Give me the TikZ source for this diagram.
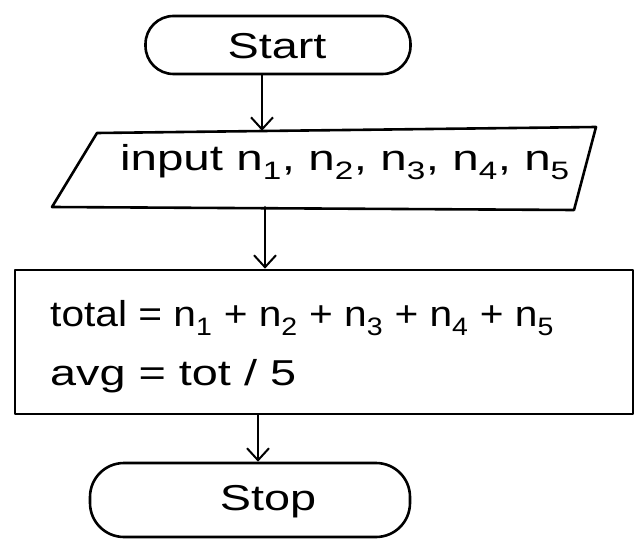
\documentclass[tikz,border=0pt]{standalone}
\usepackage{fontspec}
\usepackage{graphicx}
\setmainfont{Liberation Sans}
\usetikzlibrary{arrows.meta,calc}
\newcommand{\wide}[2][1.3]{\scalebox{#1}[1]{#2}}
\begin{document}
\begin{tikzpicture}[x=1pt,y=-1pt,
  ln/.style={line width=2.6pt,line join=round,line cap=round},
  term/.style={ln,draw,rounded corners=28pt,inner sep=0pt},
  txt/.style={font=\fontsize{36}{40}\selectfont,inner sep=0pt},
  arr/.style={ln,-{Straight Barb[length=12pt,width=22pt,line width=2pt]}}]
\useasboundingbox[fill=white] (0,0) rectangle (644,545);
% Start
\node[term,minimum width=265pt,minimum height=58pt] (start) at (278,45) {};
\node[txt] (starttxt) at (277,46) {\wide{Start}};
% input parallelogram
\coordinate (p1) at (97,133);
\coordinate (p2) at (596,127);
\coordinate (p3) at (574,210);
\coordinate (p4) at (52,207);
\draw[ln] (p1) -- (p2) -- (p3) -- (p4) -- cycle;
\node[txt,minimum width=470pt,minimum height=76pt] (input) at (330,169) {};
\node[txt] (intxt) at (345,162) {\wide[1.32]{input n\textsubscript{1}, n\textsubscript{2}, n\textsubscript{3}, n\textsubscript{4}, n\textsubscript{5}}};
% process
\node[ln,draw,minimum width=618pt,minimum height=144pt,inner sep=0pt] (proc) at (324,342) {};
\node[txt,anchor=west] (l1) at (50,318) {\wide[1.13]{total = n\textsubscript{1} + n\textsubscript{2} + n\textsubscript{3} + n\textsubscript{4} + n\textsubscript{5}}};
\node[txt,anchor=west] (l2) at (50,376) {\wide{avg = tot / 5}};
% Stop
\node[term,minimum width=320pt,minimum height=74pt,rounded corners=34pt] (stop) at (250,500) {};
\node[txt] (stoptxt) at (268,502) {\wide{Stop}};
% arrows
\coordinate (x1) at (262,0);
\coordinate (x2) at (265,0);
\coordinate (x3) at (258,0);
\draw[arr] (start.south -| x1) -- (input.north -| x1);
\draw[arr] (input.south -| x2) -- (proc.north -| x2);
\draw[arr] (proc.south -| x3) -- (stop.north -| x3);
\end{tikzpicture}
\end{document}
